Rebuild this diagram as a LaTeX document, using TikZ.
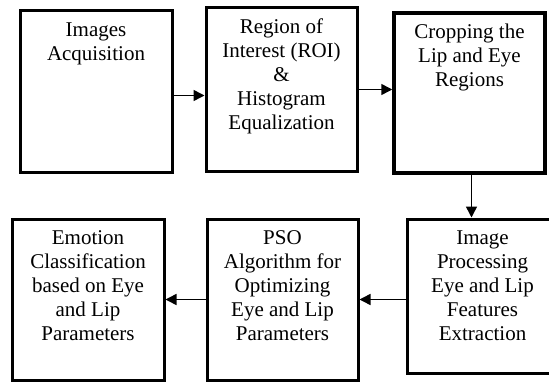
\documentclass[tikz,border=0pt]{standalone}
\usepackage{fontspec}
\setmainfont{Liberation Serif}
\usetikzlibrary{arrows.meta}

\newcommand{\stagetext}[3]{\parbox[t][#2][t]{#1}{\vspace*{9pt}\centering\fontsize{21}{24}\selectfont\strut#3}}

\tikzset{
  stage/.style={draw, line width=3pt, inner sep=0pt},
  flow/.style={line width=1.5pt, -{Triangle[length=11pt,width=11pt]}}
}

\begin{document}
\begin{tikzpicture}[x=1pt,y=1pt]
   \useasboundingbox (0,0) rectangle (549,381);

   \node[stage] (acq) at (96,289.5) {\stagetext{152pt}{161pt}{Images\\Acquisition}};
   \node[stage] (roi) at (281.5,291.5) {\stagetext{151pt}{163pt}{Region of\\Interest (ROI)\\\&\\Histogram\\Equalization}};
   \node[stage, line width=3.5pt] (crop) at (469.5,288) {\stagetext{151pt}{160pt}{Cropping the\\Lip and Eye\\Regions}};

   \node[stage] (feat) at (482.5,85) {\stagetext{151pt}{154pt}{Image\\Processing\\Eye and Lip\\Features\\Extraction}};
   \node[stage] (pso) at (282.5,81.5) {\stagetext{151pt}{161pt}{PSO\\Algorithm for\\Optimizing\\Eye and Lip\\Parameters}};
   \node[stage] (emo) at (88,81.5) {\stagetext{152pt}{161pt}{Emotion\\Classification\\based on Eye\\and Lip\\Parameters}};

   \draw[flow] ([yshift=-4pt]acq.east) -- ([yshift=-4pt]acq.east -| roi.west);
   \draw[flow] (roi.east) -- (roi.east -| crop.west);
   \draw[flow] ([xshift=2pt]crop.south) -- ([xshift=2pt]crop.south |- feat.north);
   \draw[flow] (pso.east -| feat.west) -- (pso.east);
   \draw[flow] (pso.west) -- (emo.east);
\end{tikzpicture}
\end{document}
